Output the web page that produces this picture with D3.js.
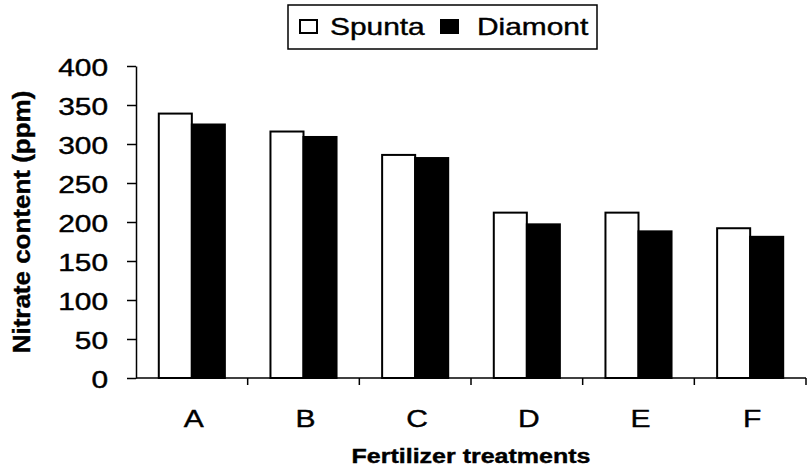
<!DOCTYPE html>
<html>
<head>
<meta charset="utf-8">
<script src="https://cdn.jsdelivr.net/npm/d3@7/dist/d3.min.js"></script>
<style>
	body { margin: 0; background: #fff; }
	svg { display: block; }
	text { font-family: "Liberation Sans", Arial, sans-serif; fill: #000; stroke: #000; stroke-width: 0.4px; }
</style>
</head>
<body>
<div id="chart"></div>
<script>
/* global d3 */

var categories = ['A', 'B', 'C', 'D', 'E', 'F'];
var seriesNames = ['Spunta', 'Diamont'];
var spunta = [339, 316, 286, 212, 212, 192];
var diamont = [325, 309, 282, 197, 188, 181];
var yTicks = [0, 50, 100, 150, 200, 250, 300, 350, 400];
var xTitle = 'Fertilizer treatments';
var yTitle = 'Nitrate content (ppm)';

(function() {

	var width = 809,
		height = 471,
		margin = { top: 66, left: 136, right: 3, bottom: 93 },
		stretch = 1.3; // text in the source image is widened horizontally

	var values = { Spunta: spunta, Diamont: diamont };
	var fills = { Spunta: '#fff', Diamont: '#000' };

	var svg = d3.select('#chart').append('svg')
		.attr('width', width)
		.attr('height', height);

	var x0 = d3.scaleBand()
		.domain(categories)
		.range([margin.left, width - margin.right])
		.padding(0);

	var x1 = d3.scaleBand()
		.domain(seriesNames)
		.range([0, x0.bandwidth()])
		.paddingInner(0)
		.paddingOuter(0.69);

	var y = d3.scaleLinear()
		.domain([0, 400])
		.range([height - margin.bottom, margin.top]);

	// Bars
	var groups = svg.append('g').attr('class', 'bars')
		.selectAll('g')
		.data(categories)
		.enter()
		.append('g')
		.attr('transform', function(d) { return 'translate(' + x0(d) + ',0)'; });

	groups.selectAll('rect')
		.data(function(d, i) {
			return seriesNames.map(function(s) {
				return { key: s, value: values[s][i] };
			});
		})
		.enter()
		.append('rect')
		.attr('x', function(d) { return x1(d.key); })
		.attr('width', x1.bandwidth())
		.attr('y', function(d) { return y(d.value); })
		.attr('height', function(d) { return y(0) - y(d.value); })
		.attr('fill', function(d) { return fills[d.key]; })
		.attr('stroke', '#000')
		.attr('stroke-width', 2);

	// y-axis
	var gY = svg.append('g')
		.attr('transform', 'translate(' + margin.left + ',0)')
		.call(d3.axisLeft(y).tickValues(yTicks).tickSize(9).tickSizeOuter(0));
	gY.select('.domain').attr('stroke-width', 1.5);
	gY.selectAll('.tick line').attr('stroke-width', 1.5);
	gY.selectAll('.tick text')
		.attr('x', -28 / stretch)
		.attr('dy', '0.4em')
		.attr('transform', 'scale(' + stretch + ',1)')
		.style('font-size', '23px')
		.style('font-family', '"Liberation Sans", Arial, sans-serif');

	// x-axis line with ticks at the category boundaries
	var gX = svg.append('g').attr('class', 'x-axis');
	gX.append('line')
		.attr('x1', margin.left).attr('x2', width - margin.right)
		.attr('y1', y(0)).attr('y2', y(0))
		.attr('stroke', '#000').attr('stroke-width', 1.5);
	gX.selectAll('.bound')
		.data(categories.slice(1).concat(['end']))
		.enter()
		.append('line')
		.attr('class', 'bound')
		.attr('x1', function(d) { return d === 'end' ? x0.range()[1] : x0(d); })
		.attr('x2', function(d) { return d === 'end' ? x0.range()[1] : x0(d); })
		.attr('y1', y(0)).attr('y2', y(0) + 7)
		.attr('stroke', '#000').attr('stroke-width', 1.5);
	gX.selectAll('.lab')
		.data(categories)
		.enter()
		.append('text')
		.attr('class', 'lab')
		.attr('transform', function(d) {
			return 'translate(' + (x0(d) + x0.bandwidth() / 2 + 2) + ',' + (y(0) + 49) + ') scale(1.25,1)';
		})
		.attr('text-anchor', 'middle')
		.style('font-size', '24px')
		.text(function(d) { return d; });

	// Axis titles
	svg.append('text')
		.attr('transform', 'translate(471,463) scale(1.25,1)')
		.attr('text-anchor', 'middle')
		.style('font-size', '20px')
		.style('font-weight', 'bold')
		.text(xTitle);

	svg.append('text')
		.attr('transform', 'translate(30,222) rotate(-90) scale(1.13,1)')
		.attr('text-anchor', 'middle')
		.style('font-size', '23px')
		.style('font-weight', 'bold')
		.text(yTitle);

	// Legend
	var legend = svg.append('g').attr('class', 'legend');
	legend.append('rect')
		.attr('x', 288).attr('y', 5)
		.attr('width', 309).attr('height', 44)
		.attr('fill', '#fff')
		.attr('stroke', '#000').attr('stroke-width', 1.5);
	var items = [
		{ key: 'Spunta', sx: 300, tx: 330 },
		{ key: 'Diamont', sx: 441, tx: 477 }
	];
	items.forEach(function(it) {
		legend.append('rect')
			.attr('x', it.sx).attr('y', 20)
			.attr('width', 17).attr('height', 13)
			.attr('fill', fills[it.key])
			.attr('stroke', '#000').attr('stroke-width', 2);
		legend.append('text')
			.attr('transform', 'translate(' + it.tx + ',35) scale(' + stretch + ',1)')
			.style('font-size', '23px')
			.text(it.key);
	});

})();
</script>
</body>
</html>
